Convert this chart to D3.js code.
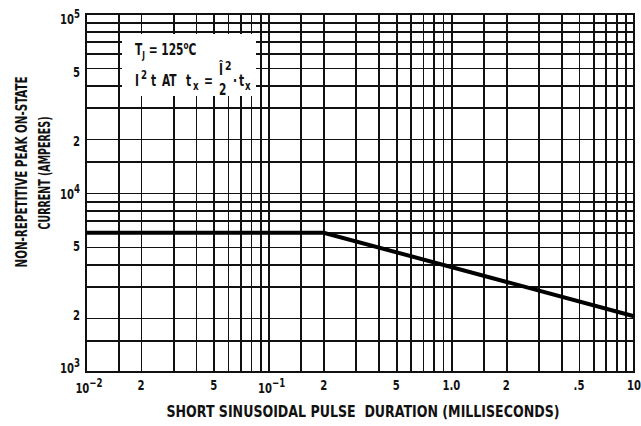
<!DOCTYPE html>
<html lang="en">
<head>
    <meta charset="UTF-8">
    <title>Non-repetitive peak on-state current</title>
    <script src="https://d3js.org/d3.v7.min.js"></script>
    <style>
        body {
            margin: 0;
            background: #ffffff;
        }
        svg text {
            font-family: 'Liberation Sans Narrow', 'DejaVu Sans Condensed', 'Arial Narrow', sans-serif;
            font-weight: bold;
            fill: #111;
        }
        .grid line {
            stroke: #111;
            stroke-width: 1.7;
            shape-rendering: crispEdges;
        }
    </style>
</head>
<body>
    <div id="chart"></div>

    <script>
        // data
        const gridMultiples = [1, 1.5, 2, 3, 4, 5, 6, 7, 8, 9];
        const xDecades = [0.01, 0.1, 1, 10];
        const yDecades = [1000, 10000, 100000];

        const xLabelValues = [0.01, 0.02, 0.05, 0.1, 0.2, 0.5, 1, 2, 5, 10];
        const xLabelText = ["10^-2", "2", "5", "10^-1", "2", "5", "1.0", "2", ".5", "10"];
        const yLabelValues = [1000, 2000, 5000, 10000, 20000, 50000, 100000];
        const yLabelText = ["10^3", "2", "5", "10^4", "2", "5", "10^5"];

        const durations = [0.01, 0.2, 10];          // ms
        const peakCurrent = [6000, 6000, 2050];     // amperes

        // grid values: every multiple inside each decade, plus the last decade
        const makeGrid = decades => decades.slice(0, -1)
            .flatMap(d => gridMultiples.map(m => d * m))
            .concat([decades[decades.length - 1]]);
        const xGrid = makeGrid(xDecades);
        const yGrid = makeGrid(yDecades);

        const W = 641, H = 426;
        const pLeft = 86, pRight = 634, pTop = 14, pBottom = 372;

        const svg = d3.select("#chart")
            .append("svg")
            .attr("width", W)
            .attr("height", H);

        const x = d3.scaleLog().domain([0.01, 10]).range([pLeft, pRight]);
        const y = d3.scaleLog().domain([1000, 100000]).range([pBottom, pTop]);
        // the printed y labels sit a little inside the grid ends
        const yLab = d3.scaleLog().domain(y.domain()).range([368, 19]);

        // grid lines
        svg.append("g")
            .attr("class", "grid")
            .attr("transform", `translate(0,${pBottom})`)
            .call(d3.axisBottom(x).tickValues(xGrid).tickSize(-(pBottom - pTop)).tickFormat(""))
            .call(g => g.select(".domain").remove());

        svg.append("g")
            .attr("class", "grid")
            .attr("transform", `translate(${pLeft},0)`)
            .call(d3.axisLeft(y).tickValues(yGrid).tickSize(-(pRight - pLeft)).tickFormat(""))
            .call(g => g.select(".domain").remove());

        // white patch behind the note
        svg.append("rect")
            .attr("x", 122)
            .attr("y", 34)
            .attr("width", 134)
            .attr("height", 62)
            .attr("fill", "#fff");

        // frame
        svg.append("rect")
            .attr("x", pLeft)
            .attr("y", pTop)
            .attr("width", pRight - pLeft)
            .attr("height", pBottom - pTop)
            .attr("fill", "none")
            .attr("stroke", "#111")
            .attr("stroke-width", 2);

        // curve
        const pts = durations.map((d, i) => [d, peakCurrent[i]]);
        svg.append("path")
            .datum(pts)
            .attr("fill", "none")
            .attr("stroke", "#000")
            .attr("stroke-width", 4)
            .attr("d", d3.line().x(d => x(d[0])).y(d => y(d[1])));

        // narrow text: the print uses a condensed face, so squeeze horizontally
        function narrow(px, py, size, sx, anchor) {
            return svg.append("text")
                .attr("transform", `translate(${px},${py}) scale(${sx},1)`)
                .attr("text-anchor", anchor || "start")
                .style("font-size", size + "px");
        }

        // label with optional "^" exponent
        function powText(sel, txt, size) {
            const parts = txt.split("^");
            sel.append("tspan").text(parts[0]);
            if (parts.length > 1) {
                sel.append("tspan")
                    .attr("dy", -6)
                    .style("font-size", (size - 2) + "px")
                    .text(parts[1].replace("-", "\u2212"));
            }
        }

        // x tick labels
        xLabelValues.forEach((v, i) => {
            const isPow = xLabelText[i].includes("^");
            const t = narrow(x(v) + (isPow ? 3 : 0), isPow ? 393 : 390, 14, 0.8, "middle");
            powText(t, xLabelText[i], 14);
        });

        // y tick labels
        yLabelValues.forEach((v, i) => {
            const t = narrow(80, yLab(v) + 5, 14, 0.8, "end");
            powText(t, yLabelText[i], 14);
        });

        // axis titles
        svg.append("text")
            .attr("x", 363)
            .attr("y", 417)
            .attr("text-anchor", "middle")
            .attr("textLength", 393)
            .attr("lengthAdjust", "spacingAndGlyphs")
            .attr("xml:space", "preserve")
            .style("font-size", "15px")
            .text("SHORT SINUSOIDAL PULSE  DURATION (MILLISECONDS)");

        svg.append("text")
            .attr("transform", "translate(27,172) rotate(-90)")
            .attr("text-anchor", "middle")
            .attr("textLength", 191)
            .attr("lengthAdjust", "spacingAndGlyphs")
            .style("font-size", "15px")
            .text("NON-REPETITIVE PEAK ON-STATE");

        svg.append("text")
            .attr("transform", "translate(50,173) rotate(-90)")
            .attr("text-anchor", "middle")
            .attr("textLength", 113)
            .attr("lengthAdjust", "spacingAndGlyphs")
            .style("font-size", "15px")
            .text("CURRENT (AMPERES)");

        // note inside the grid
        const n1 = narrow(135, 55, 16, 0.74);
        n1.append("tspan").text("T");
        n1.append("tspan").attr("dy", 4).style("font-size", "11px").text("J");
        n1.append("tspan").attr("dy", -4).text(" = 125");
        n1.append("tspan").attr("dy", -6).style("font-size", "11px").text("o");
        n1.append("tspan").attr("dy", 6).text("C");

        narrow(135, 86, 16, 0.74).text("I");
        narrow(141, 79, 12, 0.8).text("2");
        narrow(151, 86, 16, 0.74).text("t");
        narrow(162, 86, 16, 0.74).text("AT");
        narrow(186, 86, 16, 0.74).text("t");
        narrow(193, 90, 12, 0.8).text("x");
        narrow(204, 86, 16, 0.74).text("=");
        narrow(219, 75, 16, 0.74).text("\u00CE");
        narrow(225, 70, 13, 0.8).text("2");
        narrow(219, 95, 16, 0.74).text("2");
        narrow(233, 86, 16, 0.74).text("\u00B7");
        narrow(239, 86, 16, 0.74).text("t");
        narrow(245, 90, 12, 0.8).text("x");
    </script>
</body>
</html>
